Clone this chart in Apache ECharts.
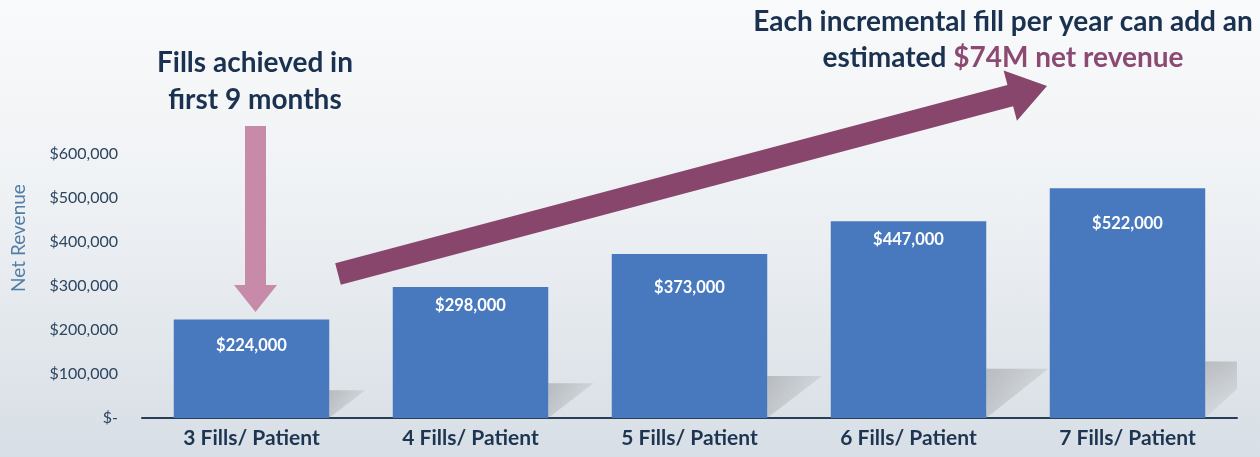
<!DOCTYPE html>
<html><head><meta charset="utf-8">
<script src="https://cdn.jsdelivr.net/npm/echarts@6/dist/echarts.min.js"></script>
<style>html,body{margin:0;padding:0;}#c{width:1260px;height:457px;background:linear-gradient(#f9fafb 0%,#eef1f4 45%,#d7dee5 100%);}</style>
</head><body><div id="c"></div>
<script>
const categories = ['3 Fills/ Patient','4 Fills/ Patient','5 Fills/ Patient','6 Fills/ Patient','7 Fills/ Patient'];
const netRevenue = [224000, 298000, 373000, 447000, 522000];
const yTicks = [0, 100000, 200000, 300000, 400000, 500000, 600000];

const labelDist = [18, 10, 25, 10, 27];
const FONT = 'Lato, "Open Sans", sans-serif';
const NAVY = '#1a3250';

function arrowPts(T, P, sw, hw, hl) {
  const dx = P[0]-T[0], dy = P[1]-T[1], L = Math.hypot(dx,dy);
  const u = [dx/L, dy/L], n = [-u[1], u[0]];
  const B = [P[0]-hl*u[0], P[1]-hl*u[1]];
  const f = (p,k) => [p[0]+k*n[0], p[1]+k*n[1]];
  return [f(T,sw), f(B,sw), f(B,hw), P, f(B,-hw), f(B,-sw), f(T,-sw)];
}

const BAR_GAP = 0.29;
const chart = echarts.init(document.getElementById('c'));
const baseGraphics = [
  {type: 'polygon', shape: {points: [[245,126],[266,126],[266,285],[277,285],[255.5,312],[234,285],[245,285]]},
    style: {fill: '#c78aa9'}},
  {type: 'polygon', shape: {points: arrowPts([338,274],[1047,86],11,26,38)},
    style: {fill: '#88466c'}},
  {type: 'text', x: 255, y: 63, style: {text: 'Fills achieved in', fill: NAVY, font: 'bold 28px ' + FONT, align: 'center', verticalAlign: 'middle'}},
  {type: 'text', x: 255, y: 100, style: {text: 'first 9 months', fill: NAVY, font: 'bold 28px ' + FONT, align: 'center', verticalAlign: 'middle'}},
  {type: 'text', x: 1003, y: 22, style: {text: 'Each incremental fill per year can add an', fill: NAVY, font: 'bold 28px ' + FONT, align: 'center', verticalAlign: 'middle'}},
  {type: 'text', x: 1003, y: 58, style: {
    text: '{a|estimated }{b|$74M net revenue}', align: 'center', verticalAlign: 'middle',
    rich: {a: {fill: NAVY, font: 'bold 28px ' + FONT}, b: {fill: '#8c4a73', font: 'bold 28px ' + FONT}}}},
  {type: 'text', x: 19, y: 238, rotation: Math.PI/2,
    style: {text: 'Net Revenue', fill: '#527ea6', font: '19px ' + FONT, align: 'center', verticalAlign: 'middle'}}
];
chart.setOption({
  animation: false,
  grid: {left: 142, right: 23, top: 154, bottom: 39},
  xAxis: {
    type: 'category', data: categories,
    axisLine: {lineStyle: {color: '#2a3e55', width: 2}},
    axisTick: {show: false},
    axisLabel: {color: '#1d3553', fontWeight: 'bold', fontSize: 21, fontFamily: FONT, margin: 10}
  },
  yAxis: {
    type: 'value', min: yTicks[0], max: yTicks[yTicks.length-1], interval: yTicks[1]-yTicks[0],
    splitLine: {show: false}, axisLine: {show: false}, axisTick: {show: false},
    axisLabel: {color: '#2c4560', fontSize: 16, fontFamily: FONT, margin: 24,
      formatter: v => v === 0 ? '$-' : '$' + v.toLocaleString('en-US')}
  },
  series: [{
    type: 'bar', z: 3,
    data: netRevenue.map((v,i) => ({value: v, label: {distance: labelDist[i]}})),
    barCategoryGap: (BAR_GAP*100) + '%',
    itemStyle: {color: '#4879be'},
    label: {show: true, position: 'insideTop', color: '#ffffff', fontWeight: 'bold', fontSize: 16.5,
      fontFamily: FONT, formatter: p => '$' + p.value.toLocaleString('en-US')}
  }],
  graphic: baseGraphics
});

// faint shadows beside each bar base (triangular, fading)
const gridRight = 1260 - 23;
const band = (gridRight - 142) / categories.length;
const shadows = netRevenue.map((v, i) => {
  const top = chart.convertToPixel({seriesIndex: 0}, [i, v]);
  const base = chart.convertToPixel({seriesIndex: 0}, [i, 0]);
  const h = base[1] - top[1];
  const x0 = top[0] + band * (1 - BAR_GAP) / 2;
  const sh = h * 0.22 + 6;
  const sw = Math.min(62, sh * 1.3);
  const x1 = Math.min(gridRight, x0 + sw);
  return {type: 'polygon', z: 1, shape: {points: [[x0, base[1] - sh], [x1, base[1] - sh], [x1, base[1] - sh * (x1 - x0) / sw], [x0, base[1]]]},
    style: {fill: new echarts.graphic.LinearGradient(0, 0, 1, 1, [
      {offset: 0, color: 'rgba(120,120,120,0.38)'}, {offset: 0.6, color: 'rgba(120,120,120,0.15)'}, {offset: 1, color: 'rgba(120,120,120,0.0)'}])}};
});
chart.setOption({graphic: baseGraphics.concat(shadows)}, {replaceMerge: ['graphic']});
</script></body></html>
